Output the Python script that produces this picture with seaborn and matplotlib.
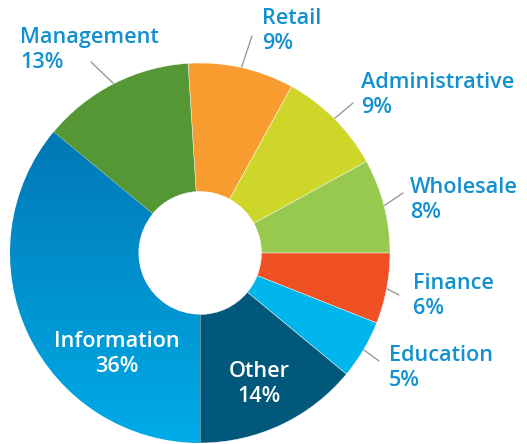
import numpy as np
import matplotlib
matplotlib.use("Agg")
import matplotlib.pyplot as plt
from matplotlib.colors import LinearSegmentedColormap
import seaborn as sns

# Employment share by sector, clockwise from the top
sectors = ["Retail", "Administrative", "Wholesale", "Finance",
           "Education", "Other", "Information", "Management"]
shares = [9, 9, 8, 6, 5, 14, 36, 13]
colors = ["#F89C30", "#CDD629", "#97C94E", "#F05124",
          "#00B4EC", "#01587B", "#0090D5", "#559735"]

sns.set_theme(style="white")
plt.rcParams["font.family"] = ["Open Sans", "DejaVu Sans"]

W, H = 527, 444
fig = plt.figure(figsize=(W / 100, H / 100), dpi=100)
ax = fig.add_axes([0, 0, 1, 1])
cx, cy, R = 200, 253, 190

# Start so that the first three sectors end exactly at 3 o'clock
start = 360 * sum(shares[:3]) / sum(shares)
wedges, _ = ax.pie(shares, colors=colors, startangle=start, counterclock=False,
                   radius=1.0, wedgeprops=dict(width=1 - 61.5 / R, edgecolor="white",
                                                linewidth=0.3))
ax.set_xlim(-cx / R, (W - cx) / R)
ax.set_ylim(-(H - cy) / R, cy / R)
ax.set_aspect("auto")
ax.axis("off")

# Vertical gradient fill on the Information wedge
info = wedges[sectors.index("Information")]
cmap = LinearSegmentedColormap.from_list("info", ["#00ADE9", "#0076B3"])
grad = np.linspace(0, 1, 256).reshape(-1, 1)
im = ax.imshow(grad, cmap=cmap, origin="lower", aspect="auto",
               extent=(-1.05, 0.05, -1.05, 0.7), zorder=info.get_zorder() + 0.1)
im.set_clip_path(info)
info.set_facecolor("none")

label_color = "#1290D0"
fs = 15.6

# Outside labels with short leader lines
outside = {
    "Retail": ((252, 36), (262, 31), "left"),
    "Administrative": ((353, 103), (361, 95), "left"),
    "Wholesale": ((403, 193), (410, 200), "left"),
    "Finance": ((399, 295), (413, 296), "left"),
    "Education": ((379, 361), (389, 368), "left"),
    "Management": ((91, 62), (20, 50), "left"),
}

def to_data(px, py):
    return (px - cx) / R, (cy - py) / R

for i, w in enumerate(wedges):
    name = sectors[i]
    if name not in outside:
        continue
    mid = np.deg2rad((w.theta1 + w.theta2) / 2)
    x0, y0 = np.cos(mid), np.sin(mid)
    end, tpos, ha = outside[name]
    ex, ey = to_data(*end)
    ax.plot([x0, ex], [y0, ey], color="#9A9A9A", lw=1.0, zorder=0)
    tx, ty = to_data(*tpos)
    ax.text(tx, ty, f"{name}\n{shares[i]}%", color=label_color, fontsize=fs,
            fontweight="semibold", ha=ha, va="center", linespacing=1.25)

# Inside labels
inside = {"Information": (117, 354), "Other": (259, 384)}
for name, pos in inside.items():
    i = sectors.index(name)
    tx, ty = to_data(*pos)
    ax.text(tx, ty, f"{name}\n{shares[i]}%", color="white", fontsize=fs,
            fontweight="semibold", ha="center", va="center", linespacing=1.25,
            zorder=5)

fig.savefig("out.png", dpi=100)
